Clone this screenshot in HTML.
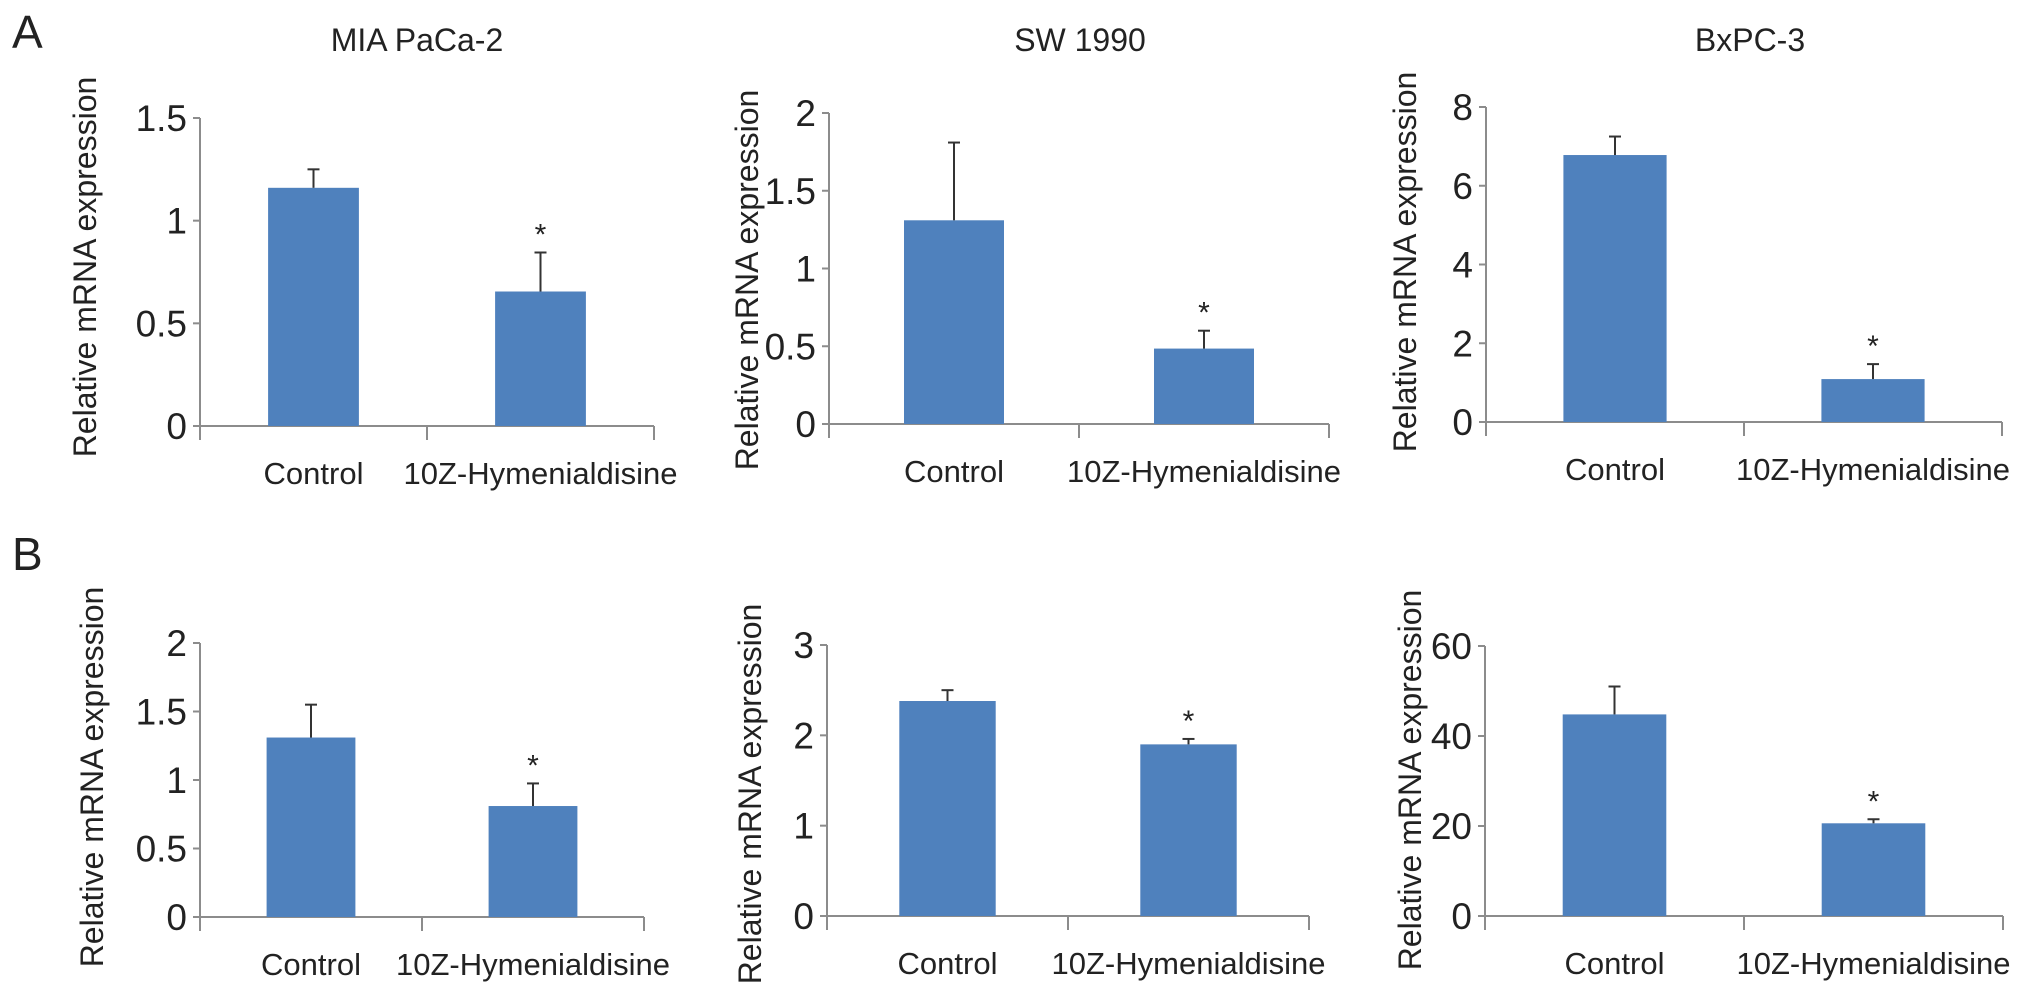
<!DOCTYPE html>
<html>
<head>
<meta charset="utf-8">
<style>
html,body{margin:0;padding:0;background:#fff;}
svg{display:block;}
text{font-family:"Liberation Sans",Arial,sans-serif;fill:#222;}
</style>
</head>
<body>
<svg id="fig" width="2032" height="1005" viewBox="0 0 2032 1005" xmlns="http://www.w3.org/2000/svg">
  <text x="12" y="48" font-size="46">A</text>
  <text x="12" y="570" font-size="46">B</text>
</svg>
<script>
// ---- data ----
const categories = ["Control", "10Z-Hymenialdisine"];
const cellLines = ["MIA PaCa-2", "SW 1990", "BxPC-3", "MIA PaCa-2", "SW 1990", "BxPC-3"];
const showTitle = [true, true, true, false, false, false];
const controlMeans = [1.16, 1.31, 6.78, 1.31, 2.38, 44.8];
const controlErrTop = [1.25, 1.81, 7.25, 1.55, 2.50, 51.0];
const treatedMeans = [0.655, 0.485, 1.09, 0.81, 1.90, 20.6];
const treatedErrTop = [0.845, 0.60, 1.47, 0.975, 1.96, 21.5];
const yMax = [1.5, 2, 8, 2, 3, 60];
const tickLabels = [
  ["0","0.5","1","1.5"],
  ["0","0.5","1","1.5","2"],
  ["0","2","4","6","8"],
  ["0","0.5","1","1.5","2"],
  ["0","1","2","3"],
  ["0","20","40","60"]
];
const treatedSig = [true, true, true, true, true, true];

// ---- layout (not data) ----
const layout = [
  {x0:200, x1:654, yTop:118, y0:426, ytx:85, yty:267, title:417},
  {x0:829, x1:1329, yTop:113, y0:424, ytx:747, yty:280, title:1080},
  {x0:1486, x1:2002, yTop:107, y0:422, ytx:1405, yty:262, title:1750},
  {x0:200, x1:644, yTop:643, y0:917, ytx:92, yty:777, title:0},
  {x0:827, x1:1309, yTop:645, y0:916, ytx:750, yty:794, title:0},
  {x0:1485, x1:2003, yTop:646, y0:916, ytx:1410, yty:780, title:0}
];

const svg = document.getElementById('fig');
const NS = "http://www.w3.org/2000/svg";
function mk(tag, attrs){
  const e = document.createElementNS(NS, tag);
  for (const k in attrs) e.setAttribute(k, attrs[k]);
  svg.appendChild(e);
  return e;
}

for (let p = 0; p < 6; p++) {
  const L = layout[p];
  const yScale = v => L.y0 - (v / yMax[p]) * (L.y0 - L.yTop);
  const W = L.x1 - L.x0;
  const catW = W / categories.length;
  const xCenter = i => L.x0 + catW * (i + 0.5);
  const barW = catW * 0.4;

  if (showTitle[p]) {
    const t = mk('text', {x:L.title, y:51, 'font-size':32, 'text-anchor':'middle'});
    
    
    t.textContent = cellLines[p];
  }

  const yt = mk('text', {x:0, y:0, 'font-size':32, 'text-anchor':'middle',
    transform:`translate(${L.ytx + 11},${L.yty}) rotate(-90)`});
  
  
  yt.textContent = 'Relative mRNA expression';

  const ya = mk('line', {x1:L.x0, y1:L.yTop, x2:L.x0, y2:L.y0 + 14, stroke:'#8c8c8c', 'stroke-width':2});
  
  

  const ticks = tickLabels[p];
  for (let i = 0; i < ticks.length; i++) {
    const v = parseFloat(ticks[i]);
    const y = yScale(v);
    const tk = mk('line', {x1:L.x0 - 7, y1:y, x2:L.x0, y2:y, stroke:'#8c8c8c', 'stroke-width':2});
    
    
    const tl = mk('text', {x:L.x0 - 13, y:y + 13, 'font-size':37, 'text-anchor':'end'});
    
    
    tl.textContent = ticks[i];
  }

  const xa = mk('line', {x1:L.x0 - 7, y1:L.y0, x2:L.x1, y2:L.y0, stroke:'#8c8c8c', 'stroke-width':2});
  
  
  for (let i = 1; i <= categories.length; i++) {
    const xt = mk('line', {x1:L.x0 + catW * i, y1:L.y0, x2:L.x0 + catW * i, y2:L.y0 + 14, stroke:'#8c8c8c', 'stroke-width':2});
    
    
  }

  const means = [controlMeans[p], treatedMeans[p]];
  const errs = [controlErrTop[p], treatedErrTop[p]];
  for (let i = 0; i < categories.length; i++) {
    const cx = xCenter(i);
    const yb = yScale(means[i]);
    const bar = mk('rect', {x:cx - barW / 2, y:yb, width:barW, height:L.y0 - yb, fill:'#4f81bd'});
    
    
    const ye = yScale(errs[i]);
    const el = mk('line', {x1:cx, y1:yb, x2:cx, y2:ye, stroke:'#333', 'stroke-width':2});
    
    
    const ec = mk('line', {x1:cx - 6, y1:ye, x2:cx + 6, y2:ye, stroke:'#333', 'stroke-width':2});
    
    
    if (i === 1 && treatedSig[p]) {
      const st = mk('text', {x:cx, y:ye - 8, 'font-size':30, 'text-anchor':'middle', fill:'#555'});
      
      
      st.textContent = '*';
    }
    const lbl = mk('text', {x:cx, y:L.y0 + 58, 'font-size':31, 'text-anchor':'middle'});
    
    
    lbl.textContent = categories[i];
  }
}
</script>
</body>
</html>
